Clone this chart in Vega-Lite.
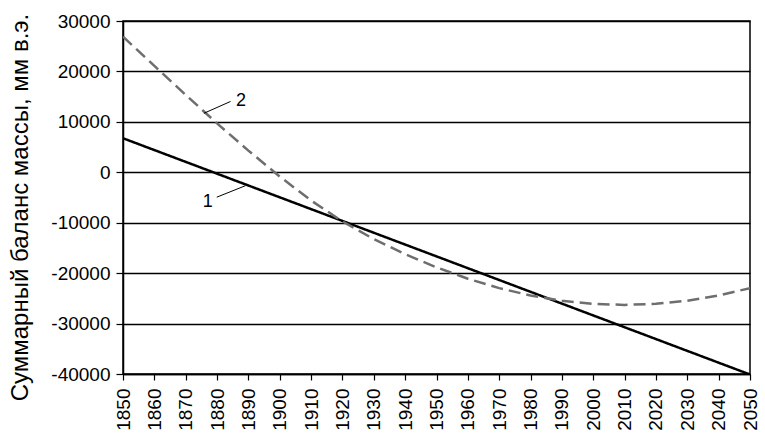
{
  "$schema": "https://vega.github.io/schema/vega-lite/v6.json",
  "width": 627,
  "height": 353,
  "autosize": "none",
  "padding": {"left": 123, "top": 21, "right": 15, "bottom": 69},
  "background": "white",
  "config": {
    "font": "Liberation Sans",
    "view": {"stroke": "black", "strokeWidth": 1.5}
  },
  "datasets": {
    "lines": [
      {"year": 1850, "value": 6750, "series": "1"},
      {"year": 2050, "value": -40100, "series": "1"},
      {"year": 1850, "value": 26900, "series": "2"},
      {"year": 1860, "value": 21100, "series": "2"},
      {"year": 1870, "value": 15350, "series": "2"},
      {"year": 1880, "value": 9700, "series": "2"},
      {"year": 1890, "value": 4300, "series": "2"},
      {"year": 1900, "value": -850, "series": "2"},
      {"year": 1910, "value": -5600, "series": "2"},
      {"year": 1920, "value": -9750, "series": "2"},
      {"year": 1930, "value": -13250, "series": "2"},
      {"year": 1940, "value": -16250, "series": "2"},
      {"year": 1950, "value": -18850, "series": "2"},
      {"year": 1960, "value": -21100, "series": "2"},
      {"year": 1970, "value": -22970, "series": "2"},
      {"year": 1980, "value": -24430, "series": "2"},
      {"year": 1990, "value": -25470, "series": "2"},
      {"year": 2000, "value": -26090, "series": "2"},
      {"year": 2010, "value": -26300, "series": "2"},
      {"year": 2020, "value": -26090, "series": "2"},
      {"year": 2030, "value": -25470, "series": "2"},
      {"year": 2040, "value": -24430, "series": "2"},
      {"year": 2050, "value": -22970, "series": "2"}
    ],
    "leaders": [
      {"year": 1884.3, "value": 14040, "id": "2"},
      {"year": 1875.8, "value": 11700, "id": "2"},
      {"year": 1879.9, "value": -4940, "id": "1"},
      {"year": 1889.1, "value": -2650, "id": "1"}
    ],
    "labels": [
      {"year": 1887.6, "value": 14230, "label": "2"},
      {"year": 1877.0, "value": -5930, "label": "1"}
    ]
  },
  "layer": [
    {
      "data": {"name": "lines"},
      "mark": {"type": "line", "strokeWidth": 2.5, "clip": true},
      "encoding": {
        "x": {
          "field": "year", "type": "quantitative",
          "scale": {"domain": [1850, 2050], "nice": false, "zero": false},
          "axis": {
            "values": [1850, 1860, 1870, 1880, 1890, 1900, 1910, 1920, 1930, 1940, 1950, 1960, 1970, 1980, 1990, 2000, 2010, 2020, 2030, 2040, 2050],
            "tickCount": 30,
            "labelExpr": "datum.value + ''",
            "labelOverlap": false,
            "labelBound": false,
            "labelAngle": -90,
            "labelAlign": "right",
            "labelBaseline": "middle",
            "labelFontSize": 19,
            "labelColor": "black",
            "labelPadding": 8,
            "tickColor": "black",
            "tickSize": 6,
            "tickWidth": 1.2,
            "domainColor": "black",
            "domainWidth": 1.5,
            "grid": false,
            "title": null
          }
        },
        "y": {
          "field": "value", "type": "quantitative",
          "scale": {"domain": [-40000, 30000], "nice": false},
          "axis": {
            "values": [-40000, -30000, -20000, -10000, 0, 10000, 20000, 30000],
            "tickCount": 10,
            "labelExpr": "datum.value + ''",
            "labelFontSize": 19,
            "labelColor": "black",
            "labelPadding": 6,
            "tickColor": "black",
            "tickSize": 7,
            "tickWidth": 1.2,
            "domainColor": "black",
            "domainWidth": 1.5,
            "grid": true,
            "gridColor": "black",
            "gridWidth": 1.3,
            "gridOpacity": 1,
            "title": "Суммарный баланс массы, мм в.э.",
            "titleFontSize": 24,
            "titleFontWeight": "normal",
            "titleColor": "black",
            "titleX": -91,
            "titleY": 186
          }
        },
        "color": {
          "field": "series", "type": "nominal",
          "scale": {"domain": ["1", "2"], "range": ["#000000", "#6e6e6e"]},
          "legend": null
        },
        "strokeDash": {
          "field": "series", "type": "nominal",
          "scale": {"domain": ["1", "2"], "range": [[1, 0], [12, 6]]},
          "legend": null
        }
      }
    },
    {
      "data": {"name": "leaders"},
      "mark": {"type": "line", "color": "black", "strokeWidth": 1},
      "encoding": {
        "x": {"field": "year", "type": "quantitative"},
        "y": {"field": "value", "type": "quantitative"},
        "detail": {"field": "id"}
      }
    },
    {
      "data": {"name": "labels"},
      "mark": {"type": "text", "fontSize": 18, "color": "black", "align": "center", "baseline": "middle"},
      "encoding": {
        "x": {"field": "year", "type": "quantitative"},
        "y": {"field": "value", "type": "quantitative"},
        "text": {"field": "label"}
      }
    }
  ]
}
